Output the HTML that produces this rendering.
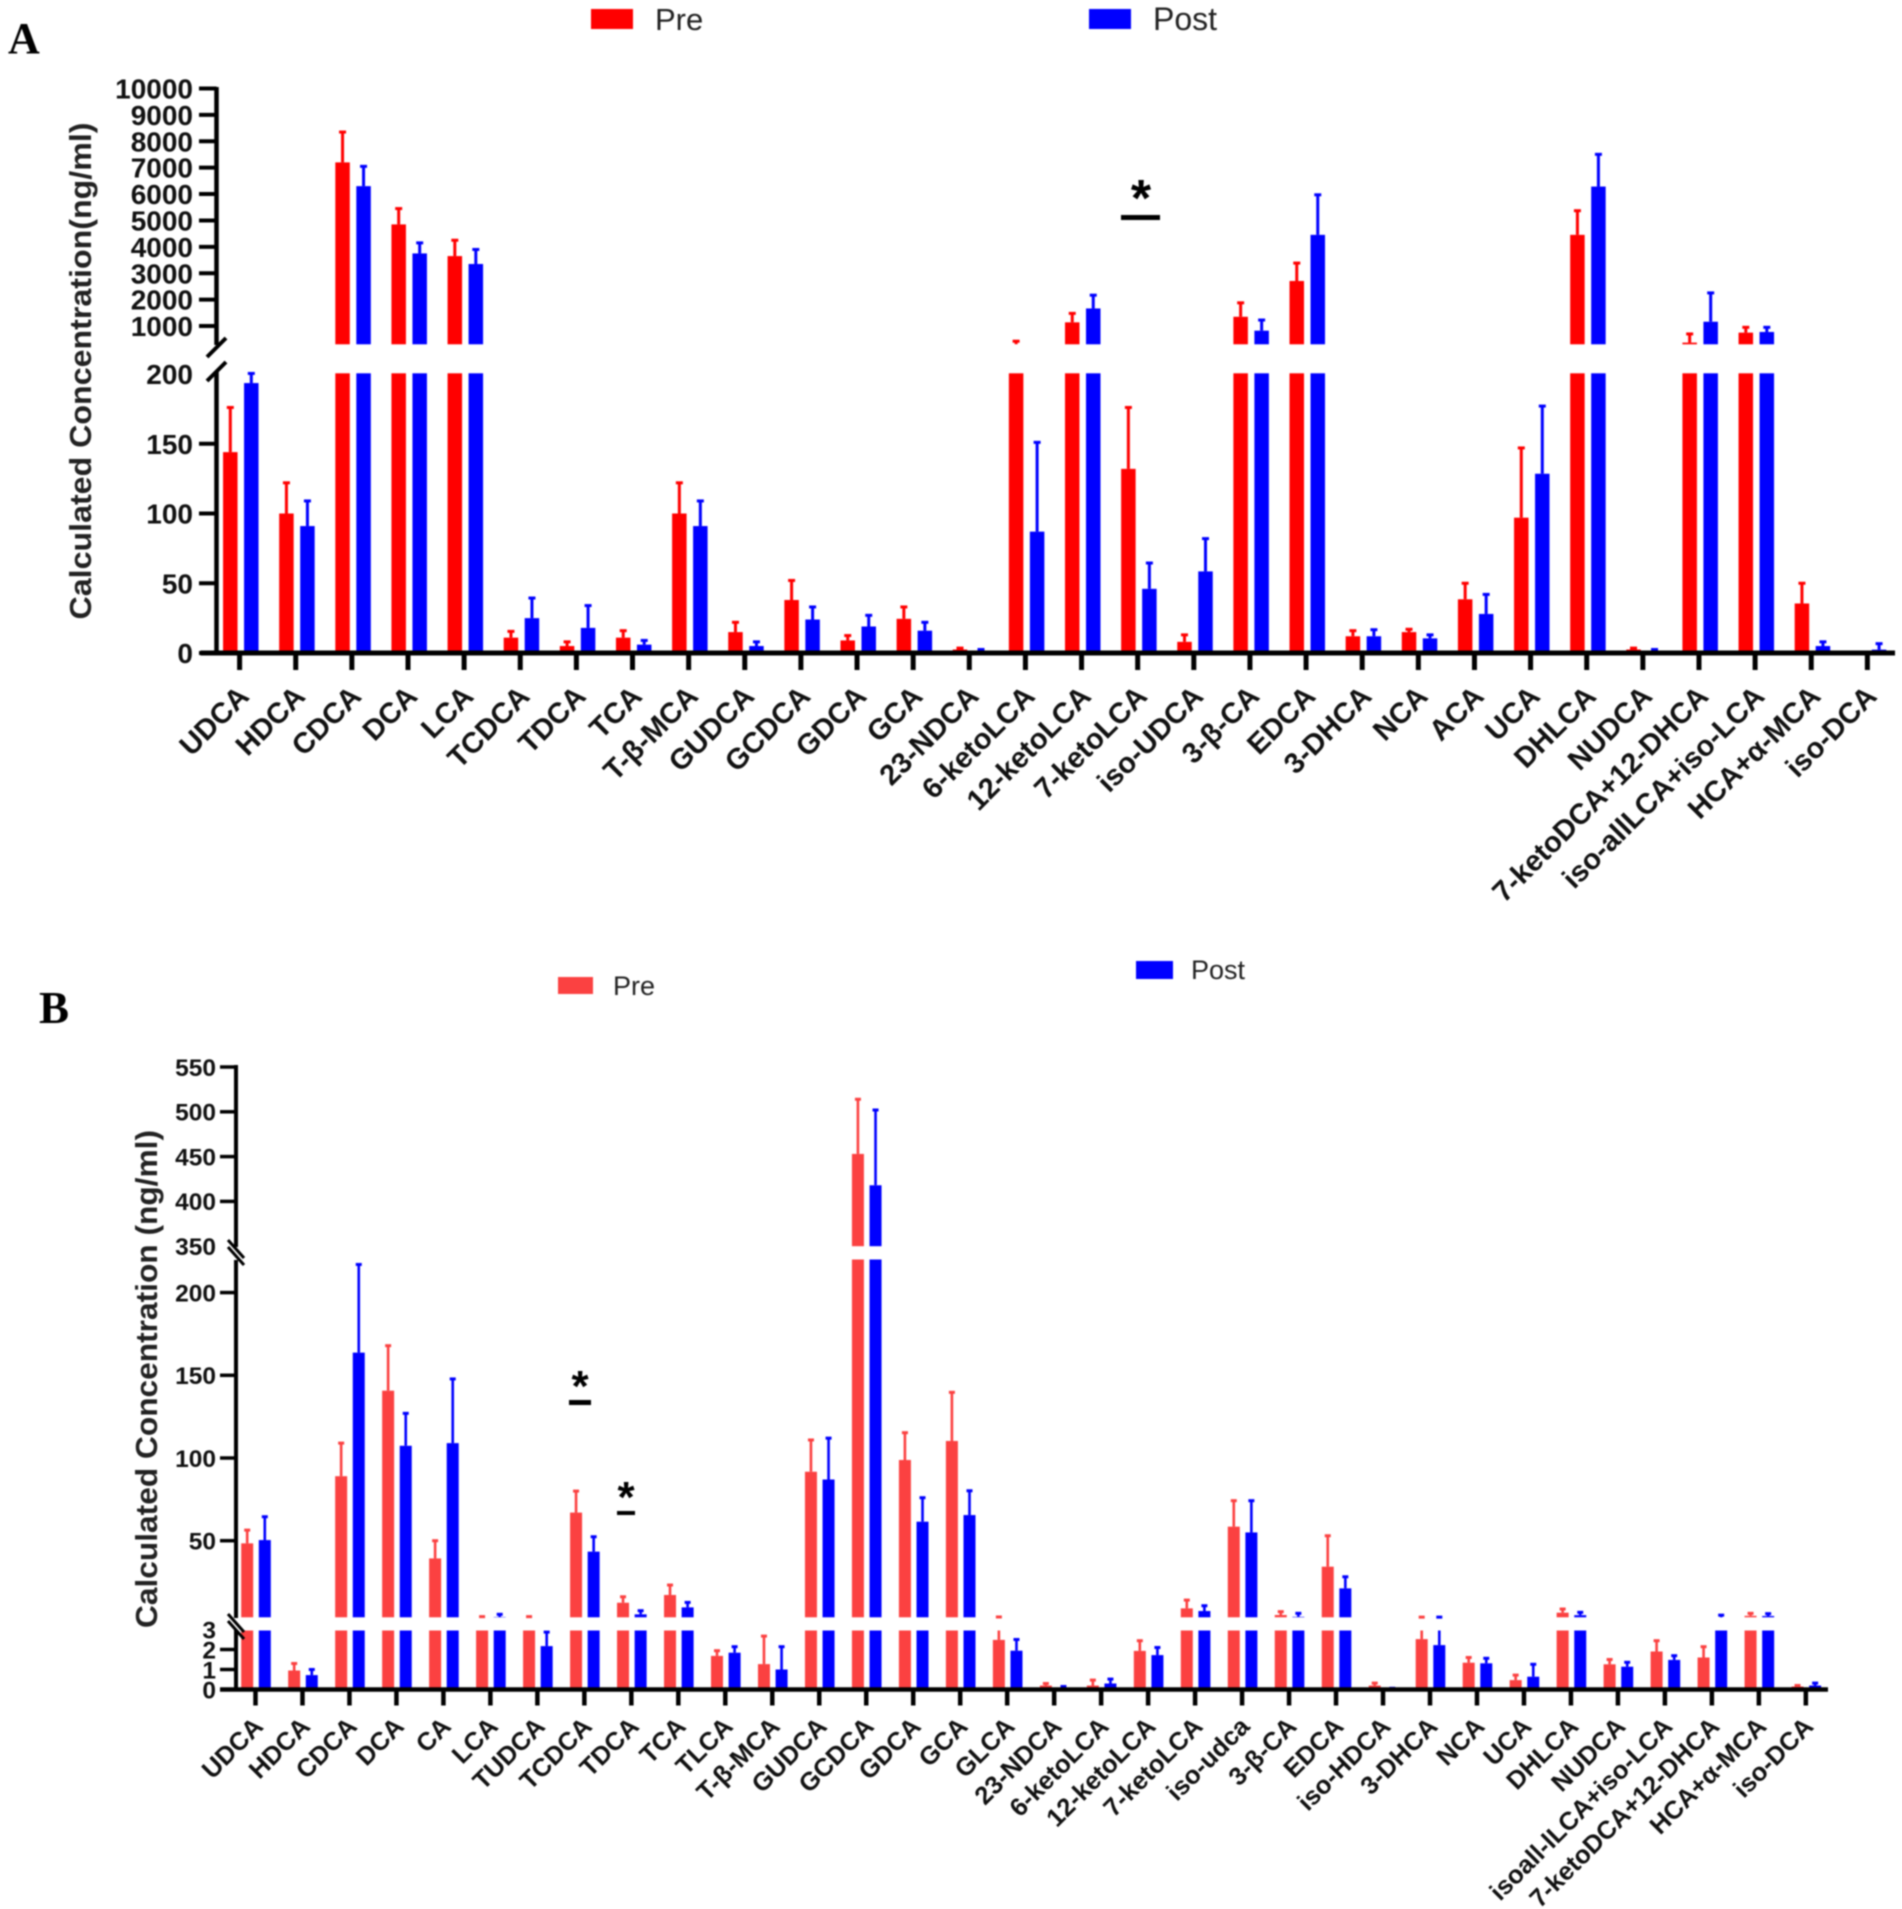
<!DOCTYPE html>
<html lang="en">
<head>
<meta charset="utf-8">
<title>Calculated bile acid concentrations, pre and post</title>
<style>
  html, body { margin: 0; padding: 0; background: #fff; }
  #figure { display: block; width: 1902px; height: 1909px; filter: blur(0.7px); font-family: "Liberation Sans", sans-serif; fill: #111; }
  .panel { font-family: "Liberation Serif", serif; font-weight: bold; fill: #000; }
  .ytitle { font-weight: bold; font-size: 31px; fill: #222; }
  .ytick { font-weight: bold; text-anchor: end; fill: #111; }
  .xtick { font-weight: bold; text-anchor: end; fill: #111; }
  .legend { fill: #222; }
  .star { font-weight: bold; text-anchor: middle; fill: #000; }
</style>
</head>
<body>
<svg id="figure" xmlns="http://www.w3.org/2000/svg" width="1902" height="1909" viewBox="0 0 1902 1909">
  <rect x="0" y="0" width="1902" height="1909" fill="#fff"/>

  <text class="panel" x="8" y="53" font-size="44">A</text>
  <rect x="591" y="9" width="42" height="20" fill="#ff0000"/>
  <text class="legend" x="655" y="30" font-size="31">Pre</text>
  <rect x="1089" y="9" width="42" height="20" fill="#0000ff"/>
  <text class="legend" x="1153" y="30" font-size="32">Post</text>
  <text class="ytitle" transform="translate(91,371) rotate(-90)" text-anchor="middle" textLength="497" lengthAdjust="spacingAndGlyphs">Calculated Concentration(ng/ml)</text>
  <g id="chartA"></g>
  <rect x="1121" y="215" width="39" height="5" fill="#000"/>
  <text class="star" x="1141" y="216" font-size="52">*</text>

  <text class="panel" x="39" y="1023" font-size="45">B</text>
  <rect x="558" y="977" width="35" height="17" fill="#fb4141"/>
  <text class="legend" x="613" y="995" font-size="27">Pre</text>
  <rect x="1136" y="961" width="37" height="18" fill="#0000ff"/>
  <text class="legend" x="1191" y="979" font-size="27">Post</text>
  <text class="ytitle" transform="translate(157,1379) rotate(-90)" text-anchor="middle" textLength="498" lengthAdjust="spacingAndGlyphs">Calculated Concentration (ng/ml)</text>
  <g id="chartB"></g>
  <rect x="569" y="1400" width="22" height="5" fill="#000"/>
  <text class="star" x="580" y="1401" font-size="44">*</text>
  <rect x="617" y="1511" width="18" height="4" fill="#000"/>
  <text class="star" x="626" y="1512" font-size="44">*</text>
</svg>

<script>
// ---- Panel A data ----
const categoriesA = ["UDCA","HDCA","CDCA","DCA","LCA","TCDCA","TDCA","TCA","T-β-MCA","GUDCA","GCDCA","GDCA","GCA","23-NDCA","6-ketoLCA","12-ketoLCA","7-ketoLCA","iso-UDCA","3-β-CA","EDCA","3-DHCA","NCA","ACA","UCA","DHLCA","NUDCA","7-ketoDCA+12-DHCA","iso-allLCA+iso-LCA","HCA+α-MCA","iso-DCA"];
const preA = [144,100,7200,4850,3650,11,5,11,100,15,38,9,24.5,2.5,280,1139,132,8,1350,2706,12,15,38.5,97,4454,2.5,370,748,35.5,0];
const preErrA = [32,22,1150,600,600,4.5,3,5,22,7,14,3.5,8.5,1,144,339,44,5,528,678,4,2,11.5,50,915,1,329,202,14.5,0];
const postA = [193.5,91,6300,3750,3350,25,18,6,91,5,24,19,16,1.5,87,1665,46,58.5,823,4454,12,10.5,28,128.5,6284,1.5,1162,774,5,2.4];
const postErrA = [6.9,18,750,400,550,14.4,16,3,18,3,9,8,6,1,64,503,18.5,23.5,403,1518,4.7,2.5,14,48.5,1221,1,1092,176,3,4.3];
const ticksALower = [0,50,100,150,200];
const ticksAUpper = [1000,2000,3000,4000,5000,6000,7000,8000,9000,10000];

// ---- Panel B data ----
const categoriesB = ["UDCA","HDCA","CDCA","DCA","CA","LCA","TUDCA","TCDCA","TDCA","TCA","TLCA","T-β-MCA","GUDCA","GCDCA","GDCA","GCA","GLCA","23-NDCA","6-ketoLCA","12-ketoLCA","7-ketoLCA","iso-udca","3-β-CA","EDCA","iso-HDCA","3-DHCA","NCA","UCA","DHLCA","NUDCA","isoall-lLCA+iso-LCA","7-ketoDCA+12-DHCA","HCA+α-MCA","iso-DCA"];
const preB = [48.4,0.95,89,140.7,39.3,3.5,3.5,67,12.5,17.2,1.68,1.27,91.7,453,98.8,110.3,2.48,0.2,0.2,1.93,9.1,58.5,5.1,34.3,0.2,2.52,1.34,0.47,6.5,1.26,1.9,1.6,4.6,0.15];
const preErrB = [8,0.35,20,27.2,10.7,0.6,0.6,13,3.6,6,0.26,1.4,19.2,61,16.5,29.4,1.42,0.1,0.27,0.51,5,15.7,2,18.7,0.12,1.28,0.26,0.25,2.2,0.24,0.54,0.54,1.5,0.05];
const postB = [50.4,0.72,163.7,107.4,109,3.9,2.17,43.4,5.5,9.7,1.84,1,87,418,61.5,65.5,1.94,0.1,0.3,1.72,7.5,55,4,21.2,0.03,2.22,1.31,0.64,5,1.14,1.48,3.6,4.5,0.2];
const postErrB = [14.1,0.28,53.3,19.6,38.8,1.6,0.7,9,2.2,3,0.3,1.14,25,84,14.5,14.7,0.56,0.05,0.22,0.38,3.2,19.2,2.1,7,0.03,1.58,0.25,0.62,1.7,0.22,0.21,1.4,1.4,0.12];
const ticksBLow = [0,1,2,3];
const ticksBMid = [50,100,150,200];
const ticksBTop = [350,400,450,500,550];

// ---- Drawing ----
const SVGNS = 'http://www.w3.org/2000/svg';

function make(parent, tag, attrs) {
  const el = document.createElementNS(SVGNS, tag);
  for (const k in attrs) el.setAttribute(k, attrs[k]);
  parent.appendChild(el);
  return el;
}

// A linear axis segment: domain [d0, d1] maps to pixels [y0, y1].
function segment(d0, d1, y0, y1) {
  const s = { d0: d0, d1: d1, y0: y0, y1: y1 };
  s.y = function (v) { return y0 + (v - d0) * (y1 - y0) / (d1 - d0); };
  return s;
}

function drawSeries(g, cfg, values, errs, xOffset, color, seriesName) {
  values.forEach(function (v, i) {
    const cx = cfg.x0 + i * cfg.step + xOffset;
    const top = v + errs[i];
    cfg.segments.forEach(function (s) {
      // bar part inside this axis segment
      if (v > s.d0) {
        const yTop = s.y(Math.min(v, s.d1));
        const bar = make(g, 'rect', { x: cx - cfg.barW / 2, y: yTop, width: cfg.barW, height: s.y0 - yTop, fill: color });
        
        
      }
      // error stem part inside this segment
      const lo = Math.max(v, s.d0);
      const hi = Math.min(top, s.d1);
      if (hi > lo) {
        const stem = make(g, 'line', { x1: cx, x2: cx, y1: s.y(lo), y2: s.y(hi), stroke: color, 'stroke-width': cfg.errW });
        
        
      }
      // error cap
      if (errs[i] > 0 && top >= s.d0 && top <= s.d1) {
        const cap = make(g, 'line', { x1: cx - cfg.capW / 2, x2: cx + cfg.capW / 2, y1: s.y(top), y2: s.y(top), stroke: color, 'stroke-width': 3 });
        
        
      }
    });
  });
}

function drawYTicks(g, cfg, s, ticks, noMark) {
  ticks.forEach(function (t) {
    const y = s.y(t);
    if (t !== noMark) {
      const mark = make(g, 'line', { x1: cfg.tickX0, x2: cfg.axisX, y1: y, y2: y, stroke: '#000', 'stroke-width': cfg.yTickW });
      
      
    }
    const label = make(g, 'text', { x: cfg.labelX, y: y, dy: '0.36em', 'font-size': cfg.yFont, class: 'ytick' });
    label.textContent = String(t);
    
    
  });
}

function drawXAxis(g, cfg, categories) {
  const base = make(g, 'line', { x1: cfg.axisX - 16, x2: cfg.axisEnd, y1: cfg.baseY, y2: cfg.baseY, stroke: '#000', 'stroke-width': cfg.axisW });
  
  
  categories.forEach(function (name, i) {
    const x = cfg.x0 + i * cfg.step;
    const tick = make(g, 'line', { x1: x, x2: x, y1: cfg.baseY, y2: cfg.baseY + cfg.xTickLen, stroke: '#000', 'stroke-width': cfg.xTickW });
    
    
    const ax = x + cfg.labelDx;
    const label = make(g, 'text', { transform: 'translate(' + ax + ',' + cfg.labelY + ') rotate(' + cfg.labelAngle + ')', 'font-size': cfg.xFont, class: 'xtick' });
    label.textContent = name;
    
    
  });
}

function axisPiece(g, x, y1, y2, w) {
  const line = make(g, 'line', { x1: x, x2: x, y1: y1, y2: y2, stroke: '#000', 'stroke-width': w });
  
  
}

function breakMark(g, x1, y1, x2, y2, w) {
  const line = make(g, 'line', { x1: x1, y1: y1, x2: x2, y2: y2, stroke: '#000', 'stroke-width': w });
  
  
}

// ---- Panel A ----
const segALower = segment(0, 200.5, 653, 373.3);
const segAUpper = segment(1000, 10000, 326, 88.5);
const segAUpperClip = { d0: 310, d1: 10000, y0: 344.3, y: segAUpper.y };

const cfgA = {
  x0: 239.6, step: 56.13, barW: 14.5, errW: 3, capW: 7,
  segments: [segALower, segAUpperClip],
  axisX: 216.5, axisW: 5, axisEnd: 1895, baseY: 653,
  tickX0: 199, labelX: 193, yFont: 28, yTickW: 4,
  xTickLen: 17, xTickW: 5,
  labelDx: 11, labelY: 698, labelAngle: -45, xFont: 29
};
const gA = document.getElementById('chartA');
drawSeries(gA, cfgA, preA, preErrA, 1.2 - 10.5, '#ff0000', 'pre');
drawSeries(gA, cfgA, postA, postErrA, 1.2 + 10.5, '#0000ff', 'post');
axisPiece(gA, cfgA.axisX, 87, 345, 4.5);
axisPiece(gA, cfgA.axisX, 372, 655, 4.5);
breakMark(gA, 226, 338, 207, 357, 4);
breakMark(gA, 226, 362, 207, 381, 4);
drawYTicks(gA, cfgA, segAUpper, ticksAUpper, null);
drawYTicks(gA, cfgA, segALower, ticksALower, 200);
drawXAxis(gA, cfgA, categoriesA);

// ---- Panel B ----
const segBLow = segment(0, 2.95, 1689.5, 1630.5);
const segBMid = segment(3.7, 220, 1617.3, 1259.5);
const segBTop = segment(350, 550, 1246.2, 1067);

const cfgB = {
  x0: 255.5, step: 46.98, barW: 12, errW: 2.6, capW: 6,
  segments: [segBLow, segBMid, segBTop],
  axisX: 236, axisW: 4.5, axisEnd: 1828, baseY: 1689.5,
  tickX0: 220, labelX: 216, yFont: 24.5, yTickW: 3.5,
  xTickLen: 16, xTickW: 4.5,
  labelDx: 9, labelY: 1728, labelAngle: -45, xFont: 25.5
};
const gB = document.getElementById('chartB');
drawSeries(gB, cfgB, preB, preErrB, 0.5 - 8.8, '#fb4141', 'pre');
drawSeries(gB, cfgB, postB, postErrB, 0.5 + 8.8, '#0000ff', 'post');
axisPiece(gB, cfgB.axisX, 1065, 1247, 4);
axisPiece(gB, cfgB.axisX, 1260, 1618, 4);
axisPiece(gB, cfgB.axisX, 1630, 1691, 4);
breakMark(gB, 228, 1240, 244, 1258, 3);
breakMark(gB, 228, 1247, 244, 1265, 3);
breakMark(gB, 228, 1614, 244, 1632, 3);
breakMark(gB, 228, 1621, 244, 1639, 3);
drawYTicks(gB, cfgB, segBTop, ticksBTop, 350);
drawYTicks(gB, cfgB, segBMid, ticksBMid, null);
drawYTicks(gB, cfgB, segBLow, ticksBLow, 3);
drawXAxis(gB, cfgB, categoriesB);
</script>
</body>
</html>
